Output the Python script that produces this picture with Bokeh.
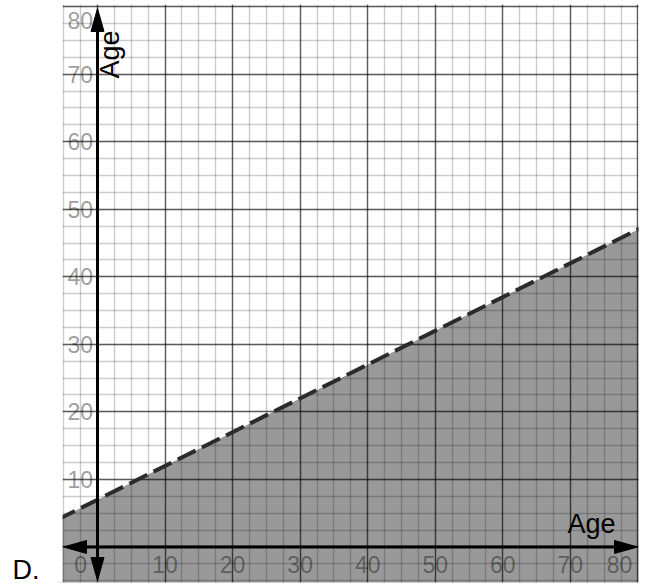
import numpy as np
from bokeh.plotting import figure
from bokeh.models import Range1d, Grid, SingleIntervalTicker, Label
from bokeh.core.properties import value
from bokeh.embed import file_html
from bokeh.resources import INLINE

# ---------------- data ----------------
x_ticks = [10, 20, 30, 40, 50, 60, 70, 80]
x_tick_labels = ["10", "20", "30", "40", "50", "60", "70", "80"]
y_ticks = [10, 20, 30, 40, 50, 60, 70, 80]
y_tick_labels = ["10", "20", "30", "40", "50", "60", "70", "80"]
origin_label = "0"
# dashed boundary line (y < x/2 + 7)
boundary_x = [-6, 81]
boundary_y = [4, 47.5]
x_title = "Age"
y_title = "Age"
option_letter = "D."

# ---------------- view ----------------
PX = 6.755                      # pixels per unit
X_VIEW_LEFT = -5.18             # left edge of the graph paper
X_START, X_END = -14.36, 80.09  # whole canvas (left margin holds "D.")
Y_START, Y_END = -5.26, 80.31
FONT = "Liberation Sans"

p = figure(width=640, height=584,
           x_range=Range1d(X_START, X_END), y_range=Range1d(Y_START, Y_END),
           x_axis_type=None, y_axis_type=None,
           toolbar_location=None, output_backend="svg",
           min_border_left=0, min_border_right=2,
           min_border_top=4, min_border_bottom=2,
           outline_line_color=None,
           background_fill_color="white", border_fill_color="white")

for dim in (0, 1):
    g = Grid(dimension=dim,
             ticker=SingleIntervalTicker(interval=10, num_minor_ticks=4),
             grid_line_color="black", grid_line_alpha=0.55, grid_line_width=1.4,
             minor_grid_line_color="black", minor_grid_line_alpha=0.2,
             minor_grid_line_width=1.4)
    if dim == 0:
        g.bounds = (X_VIEW_LEFT, X_END)
    else:
        g.cross_bounds = (X_VIEW_LEFT, X_END)
    p.add_layout(g)

# shaded half-plane
p.varea(x=boundary_x, y1=[Y_START - 10] * len(boundary_x), y2=boundary_y,
        fill_color="black", fill_alpha=0.4)
# dashed boundary
p.line(boundary_x, boundary_y, line_color="#2b2b2b", line_width=4,
       line_dash="20 7")

# white margin to the left of the graph paper
p.quad(left=[X_START - 1], right=[X_VIEW_LEFT], bottom=[Y_START - 1],
       top=[Y_END + 1], fill_color="white", line_color=None)

# axes with arrowheads
L = 23 / PX
W = 6.5 / PX
xl, xr = X_VIEW_LEFT + 1 / PX, X_END - 1 / PX
yb, yt = Y_START + 2 / PX, Y_END - 4 / PX
p.segment(x0=[xl + 0.8 * L, 0], y0=[0, yb + 0.8 * L],
          x1=[xr - 0.8 * L, 0], y1=[0, yt - 0.8 * L],
          line_color="black", line_width=3)
p.patches(xs=[[xr, xr - L, xr - L], [xl, xl + L, xl + L],
              [0, -W, W], [0, -W, W]],
          ys=[[0, W, -W], [0, W, -W],
              [yt, yt - L, yt - L], [yb, yb + L, yb + L]],
          fill_color="black", line_color="black", line_width=1)

# tick labels (clamped to stay inside the view, like the original)
x_lab = [min(v, X_END - 2.8) for v in x_ticks]
y_lab = [min(v, Y_END - 2.4) for v in y_ticks]
common = dict(text_font=value(FONT), text_font_size="23px",
              text_color="black", text_alpha=0.4)
p.text(x=x_lab, y=[0] * len(x_lab), text=x_tick_labels,
       text_align="center", text_baseline="middle", y_offset=17.5, **common)
p.text(x=[0] * len(y_lab), y=y_lab, text=y_tick_labels,
       text_align="right", text_baseline="middle", x_offset=-4.5, **common)
p.text(x=[0], y=[0], text=[origin_label],
       text_align="right", text_baseline="middle",
       x_offset=-10.5, y_offset=17.5, **common)

# axis titles
p.add_layout(Label(x=69.58, y=3.39, text=x_title, text_font=FONT,
                   text_font_size="27px", text_color="black",
                   text_align="left", text_baseline="middle"))
p.add_layout(Label(x=1.85, y=69.36, text=y_title, angle=np.pi / 2,
                   text_font=FONT, text_font_size="27px", text_color="black",
                   text_align="left", text_baseline="middle"))
# option letter, in the left margin
p.add_layout(Label(x=-12.58, y=-3.42, text=option_letter, text_font=FONT,
                   text_font_size="27px", text_color="black",
                   text_align="left", text_baseline="middle"))

open("out.html", "w").write(file_html(p, INLINE))
